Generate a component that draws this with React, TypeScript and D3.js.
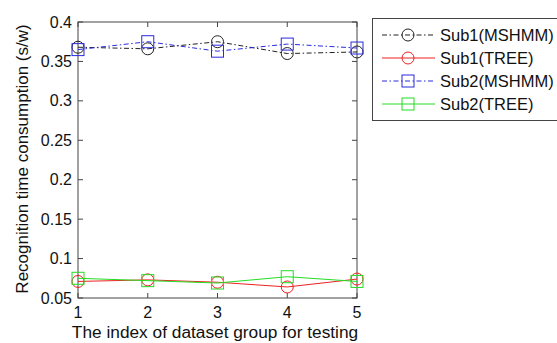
import React from 'react';
import * as d3 from 'd3';

const groups = [1, 2, 3, 4, 5];
const sub1Mshmm = [0.368, 0.366, 0.375, 0.36, 0.362];
const sub1Tree = [0.071, 0.073, 0.07, 0.064, 0.074];
const sub2Mshmm = [0.365, 0.375, 0.363, 0.372, 0.367];
const sub2Tree = [0.075, 0.072, 0.069, 0.077, 0.071];
const yTicks = [0.05, 0.1, 0.15, 0.2, 0.25, 0.3, 0.35, 0.4];

const series = [
  { name: 'Sub1(MSHMM)', values: sub1Mshmm, color: '#222', dash: '5,2.5,1.5,2.5', marker: 'circle' },
  { name: 'Sub1(TREE)', values: sub1Tree, color: '#ee2222', dash: null, marker: 'circle' },
  { name: 'Sub2(MSHMM)', values: sub2Mshmm, color: '#2a2ae0', dash: '5,2.5,1.5,2.5', marker: 'square' },
  { name: 'Sub2(TREE)', values: sub2Tree, color: '#22dd22', dash: null, marker: 'square' },
];

const W = 557;
const H = 343;
const margin = { left: 78, right: 200, top: 22, bottom: 45 };
const font = 'Liberation Sans, Arial, sans-serif';

const Marker = ({ kind, x, y, color }: any) =>
  kind === 'circle' ? (
    <circle cx={x} cy={y} r={6} fill="none" stroke={color} strokeWidth={1} />
  ) : (
    <rect x={x - 6} y={y - 6} width={12} height={12} fill="none" stroke={color} strokeWidth={1} />
  );

export default function App() {
  const x = d3.scaleLinear().domain([1, 5]).range([margin.left, 357]);
  const y = d3.scaleLinear().domain([0.05, 0.4]).range([298, margin.top]);
  const line = d3
    .line<number>()
    .x((_, i) => x(groups[i]))
    .y((d) => y(d));

  const x0 = x(1);
  const x1 = x(5);
  const y0 = y(0.05);
  const y1 = y(0.4);
  const axisColor = '#444';

  return (
    <svg width={W} height={H} style={{ position: 'absolute', left: 0, top: 0 }} fontFamily={font}>
      <rect width={W} height={H} fill="#fff" />
      {/* ticks */}
      {yTicks.map((t) => (
        <g key={t}>
          <line x1={x0} x2={x0 + 5} y1={y(t)} y2={y(t)} stroke={axisColor} />
          <line x1={x1} x2={x1 - 5} y1={y(t)} y2={y(t)} stroke={axisColor} />
          <text x={x0 - 6} y={y(t)} dy="0.35em" textAnchor="end" fontSize={16} fill="#111">
            {t}
          </text>
        </g>
      ))}
      {groups.map((g) => (
        <g key={g}>
          <line x1={x(g)} x2={x(g)} y1={y0} y2={y0 - 5} stroke={axisColor} />
          <line x1={x(g)} x2={x(g)} y1={y1} y2={y1 + 5} stroke={axisColor} />
          <text x={x(g)} y={y0 + 20} textAnchor="middle" fontSize={16} fill="#111">
            {g}
          </text>
        </g>
      ))}
      <rect x={x0} y={y1} width={x1 - x0} height={y0 - y1} fill="none" stroke={axisColor} />

      {/* series */}
      {series.map((s) => (
        <g key={s.name}>
          <path d={line(s.values) || ''} fill="none" stroke={s.color} strokeWidth={1} strokeDasharray={s.dash || undefined} />
          {s.values.map((v, i) => (
            <Marker key={i} kind={s.marker} x={x(groups[i])} y={y(v)} color={s.color} />
          ))}
        </g>
      ))}

      {/* axis labels */}
      <text x={215} y={338} textAnchor="middle" fontSize={17.3} fill="#111">
        The index of dataset group for testing
      </text>
      <text transform={`translate(28,159) rotate(-90)`} textAnchor="middle" fontSize={17} fill="#111">
        Recognition time consumption (s/w)
      </text>

      {/* legend */}
      <rect x={372.5} y={18.5} width={190} height={102} fill="#fff" stroke={axisColor} />
      {series.map((s, i) => {
        const ly = 35 + i * 23;
        return (
          <g key={s.name}>
            <line x1={382} x2={435} y1={ly} y2={ly} stroke={s.color} strokeDasharray={s.dash || undefined} />
            <Marker kind={s.marker} x={408} y={ly} color={s.color} />
            <text x={440} y={ly} dy="0.35em" fontSize={16.5} fill="#111">
              {s.name}
            </text>
          </g>
        );
      })}
    </svg>
  );
}
